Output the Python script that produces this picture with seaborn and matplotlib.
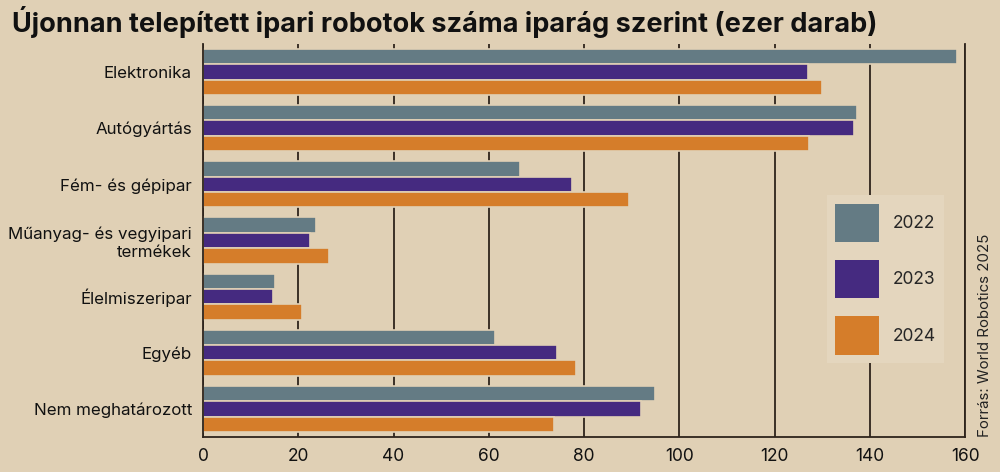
import matplotlib
matplotlib.use("Agg")
import matplotlib.pyplot as plt
import seaborn as sns
import pandas as pd

categories = ["Elektronika", "Autógyártás", "Fém- és gépipar",
              "Műanyag- és vegyipari\ntermékek", "Élelmiszeripar", "Egyéb",
              "Nem meghatározott"]
years = ["2022", "2023", "2024"]
v2022 = [158.3, 137.3, 66.6, 23.7, 15.1, 61.3, 94.9]
v2023 = [127.0, 136.7, 77.5, 22.5, 14.7, 74.3, 92.0]
v2024 = [130.0, 127.2, 89.4, 26.5, 20.8, 78.3, 73.7]
xticks = [0, 20, 40, 60, 80, 100, 120, 140, 160]

BG = "#e0d0b5"
DARK = "#2e241c"
colors = ["#647b84", "#452a80", "#d57d2a"]

rows = []
for y, vals in zip(years, [v2022, v2023, v2024]):
    for c, v in zip(categories, vals):
        rows.append({"cat": c, "year": y, "val": v})
df = pd.DataFrame(rows)

sns.set_theme(style="white")
plt.rcParams["font.family"] = ["Inter", "DejaVu Sans"]

fig = plt.figure(figsize=(10, 4.72), dpi=100, facecolor=BG)
ax = fig.add_axes([0.203, 0.074, 0.762, 0.833])
ax.set_facecolor(BG)

sns.barplot(data=df, y="cat", x="val", hue="year", palette=colors,
            orient="h", width=0.82, ax=ax, edgecolor=BG, linewidth=1.2,
            saturation=1, legend=True)

ax.set_xlim(0, 160)
ax.set_ylim(6.5, -0.5)
ax.set_xticks(xticks)
ax.set_xticklabels([str(t) for t in xticks], fontsize=12.5, color="#111111")
ax.tick_params(axis="y", labelsize=12.2, colors="#111111", length=0, pad=8)
ax.tick_params(axis="x", length=0, pad=8)
for lbl in ax.get_yticklabels():
    lbl.set_multialignment("right")
ax.set_xlabel("")
ax.set_ylabel("")
ax.xaxis.grid(True, color=DARK, linewidth=1.3)
ax.set_axisbelow(True)
ax.spines["top"].set_visible(False)
for s in ["left", "bottom", "right"]:
    ax.spines[s].set_color(DARK)
    ax.spines[s].set_linewidth(1.3)

handles, labels = ax.get_legend_handles_labels()
ax.get_legend().remove()
leg = fig.legend(handles, labels, loc="upper left", bbox_to_anchor=(0.818, 0.605),
                 frameon=True, fontsize=12.5, handlelength=2.5, handleheight=3.0,
                 labelspacing=1.05, handletextpad=0.8, borderpad=0.5)
leg.get_frame().set_facecolor("#e4d6be")
leg.get_frame().set_edgecolor("none")
leg.get_frame().set_alpha(1)
leg.get_frame().set_boxstyle("square", pad=0)
for h in leg.legend_handles:
    h.set_alpha(1)
    h.set_edgecolor("none")

fig.text(0.012, 0.953, "Újonnan telepített ipari robotok száma iparág szerint (ezer darab)",
         fontsize=19.5, fontweight="bold", color="#111111", ha="left", va="center")
fig.text(0.985, 0.29, "Forrás: World Robotics 2025", rotation=90, fontsize=10.8,
         color="#222222", ha="center", va="center")

fig.savefig("out.png", dpi=100, facecolor=BG)
